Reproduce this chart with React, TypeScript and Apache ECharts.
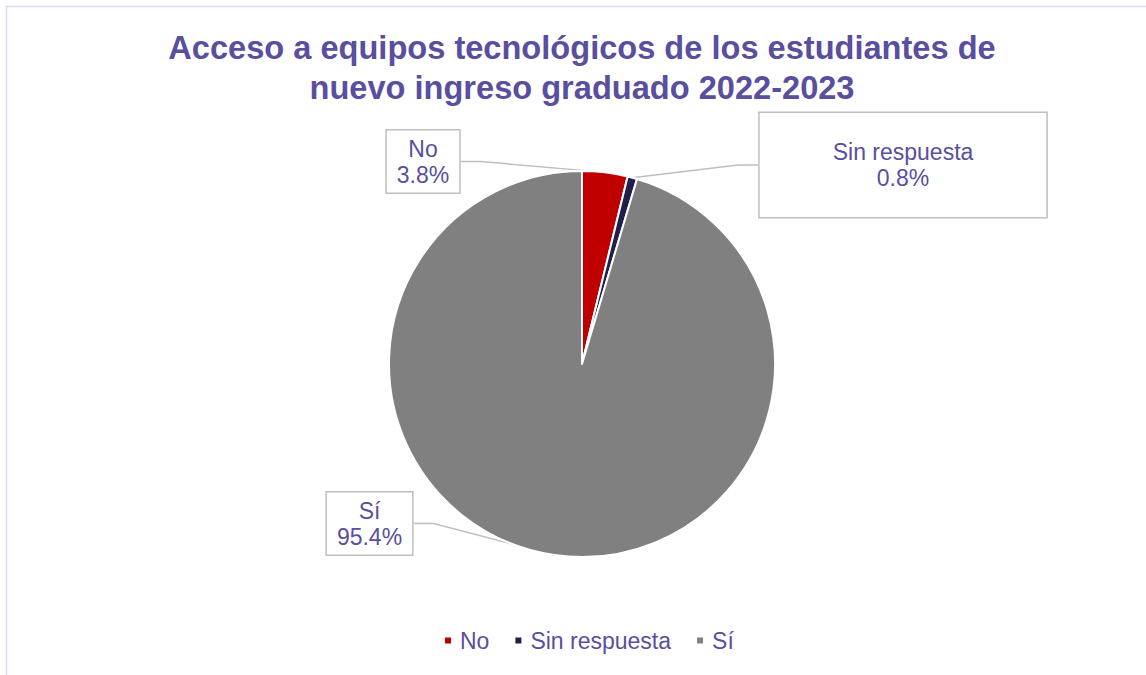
import React, { useEffect, useRef } from 'react';
import * as echarts from 'echarts';

const TITLE_LINES = [
  'Acceso a equipos tecnológicos de los estudiantes de',
  'nuevo ingreso graduado 2022-2023',
];
const categories = ['No', 'Sin respuesta', 'Sí'];
const values = [3.8, 0.8, 95.4];
const colors = ['#C00000', '#221F4A', '#808080'];

const PURPLE = '#5A4E9E';
const labelCenters = [
  [423, 161.5],
  [903, 165],
  [369.5, 523.5],
];
const labelPadding = [
  [5, 10],
  [26, 73],
  [5, 10],
];

export default function App() {
  const ref = useRef<HTMLDivElement>(null);
  useEffect(() => {
    const chart = echarts.init(ref.current!, null, { renderer: 'svg' });
    chart.setOption({
      animation: false,
      backgroundColor: '#ffffff',
      legend: {
        left: 438,
        top: 624,
        icon: 'rect',
        itemWidth: 8,
        itemHeight: 8,
        itemGap: 24,
        data: categories,
        textStyle: {
          color: PURPLE,
          fontSize: 23,
          fontFamily: 'Liberation Sans',
          padding: [0, 0, 0, 3],
        },
      },
      graphic: [
        {
          type: 'rect',
          silent: true,
          z: -10,
          shape: { x: 6.5, y: 6.5, width: 1300, height: 800 },
          style: { fill: 'none', stroke: '#D9D9F2', lineWidth: 1.5 },
        },
        {
          type: 'text',
          x: 582,
          y: 67,
          style: {
            text: TITLE_LINES.join('\n'),
            fill: PURPLE,
            fontSize: 32.6,
            fontWeight: 'bold',
            fontFamily: 'Liberation Sans',
            lineHeight: 40,
            align: 'center',
            verticalAlign: 'middle',
          },
        },
      ],
      series: [
        {
          type: 'pie',
          center: [582, 364],
          radius: 193,
          startAngle: 90,
          clockwise: true,
          itemStyle: { borderColor: '#ffffff', borderWidth: 2 },
          data: categories.map((name, i) => ({
            name,
            value: values[i],
            itemStyle: { color: colors[i] },
            label: { padding: labelPadding[i] },
          })),
          label: {
            show: true,
            position: 'outside',
            formatter: '{b}\n{c}%',
            color: PURPLE,
            fontSize: 23,
            lineHeight: 26,
            fontFamily: 'Liberation Sans',
            align: 'center',
            backgroundColor: '#ffffff',
            borderColor: '#BFBFBF',
            borderWidth: 1.5,
          },
          labelLine: {
            show: true,
            length: 20,
            length2: 20,
            lineStyle: { color: '#BFBFBF', width: 1.5 },
          },
          labelLayout: (params: any) => {
            const c = labelCenters[params.dataIndex];
            return { x: c[0], y: c[1], align: 'center', verticalAlign: 'middle' };
          },
        },
      ],
    });
    return () => chart.dispose();
  }, []);
  return (
    <div
      ref={ref}
      style={{ position: 'fixed', left: 0, top: 0, width: 1146, height: 675 }}
    />
  );
}
